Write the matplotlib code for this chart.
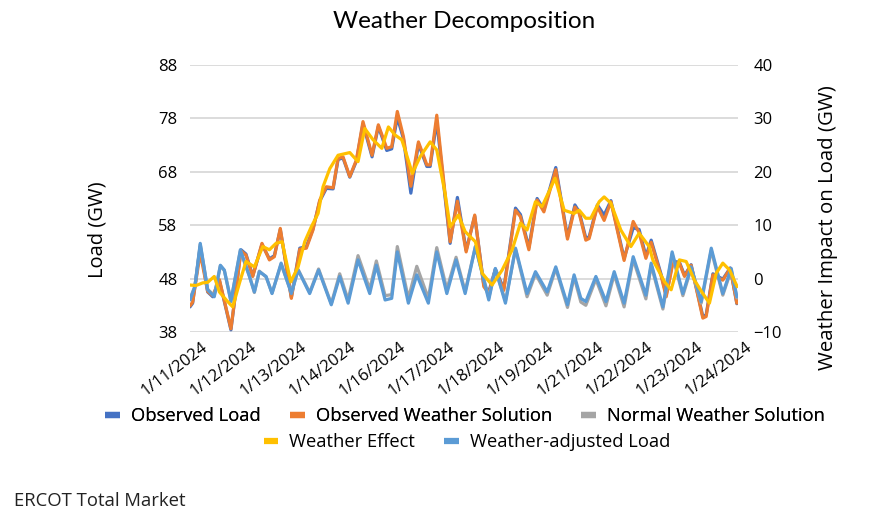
import numpy as np
import matplotlib
matplotlib.use('Agg')
import matplotlib.pyplot as plt
import matplotlib.transforms as mtransforms
from matplotlib.lines import Line2D

plt.rcParams['font.family'] = ['Open Sans', 'DejaVu Sans']

# x axis: hours since 1/11/2024 00:00, one label every 30 hours
tick_hours = [0, 30, 60, 90, 120, 150, 180, 210, 240, 270, 300, 330]
tick_labels = ['1/11/2024', '1/12/2024', '1/13/2024', '1/14/2024', '1/16/2024', '1/17/2024',
               '1/18/2024', '1/19/2024', '1/21/2024', '1/22/2024', '1/23/2024', '1/24/2024']

# observed weather solution (GW)
ows_h = [0, 1.6, 6.2, 10.7, 13.8, 17.8, 24.8, 30.9, 33.9, 38.0, 43.6, 48.1, 51.1, 54.7, 61.4, 66.5,
         70.5, 74.5, 78.6, 82.6, 86.7, 89.7, 92.7, 96.8, 100.8, 104.8, 110.3, 114.1, 119.2, 122.2,
         125.6, 129.3, 133.8, 138.4, 143.5, 145.5, 149.5, 157.6, 162.0, 167.3, 172.5, 178.0, 181.0,
         185.0, 190.1, 197.2, 200.2, 205.3, 210.3, 214.4, 221.6, 228.7, 233.2, 235.8, 239.8, 241.8,
         246.8, 250.9, 255.0, 263.0, 268.5, 272.1, 276.2, 279.4, 285.5, 288.5, 292.5, 296.5, 299.6,
         303.6, 310.7, 312.7, 316.8, 322.8, 327.3, 331.3]
ows_v = [42.9, 43.6, 52.8, 45.6, 44.8, 47.8, 38.6, 53.2, 52.4, 48.4, 54.6, 51.5, 52.1, 57.4, 44.3, 53.5,
         53.7, 57.1, 62.7, 65.2, 65.0, 70.5, 70.8, 67.1, 70.2, 77.4, 71.1, 76.8, 72.4, 72.7,
         79.3, 74.6, 65.3, 73.6, 69.3, 69.3, 78.6, 54.9, 62.5, 53.0, 59.9, 46.5, 45.2,
         49.6, 45.8, 60.8, 59.6, 53.4, 62.7, 60.5, 68.4, 55.4, 61.4, 60.2, 55.2, 55.5,
         61.5, 58.9, 62.4, 51.4, 58.7, 56.6, 51.8, 54.8, 48.4, 44.6, 50.9, 50.9, 48.4,
         50.5, 40.6, 40.9, 48.7, 47.7, 49.9, 43.4]

# observed load (GW), same hours
obs_v = [42.7, 43.4, 54.0, 45.5, 44.6, 47.7, 38.4, 53.4, 52.6, 48.5, 54.4, 51.7, 52.3, 57.2, 44.5, 53.7,
         54.0, 57.3, 62.5, 64.9, 64.8, 70.3, 70.6, 67.0, 70.0, 77.0, 70.8, 76.5, 72.0, 72.3,
         78.2, 74.2, 64.0, 73.2, 69.0, 69.0, 77.5, 54.6, 63.2, 53.3, 59.7, 46.8, 45.5,
         49.8, 46.1, 61.2, 60.0, 53.8, 63.0, 60.9, 68.8, 55.8, 61.8, 60.5, 55.6, 55.8,
         61.8, 59.9, 62.6, 51.8, 57.5, 57.2, 52.2, 55.2, 48.7, 44.9, 51.2, 51.1, 48.6,
         50.6, 40.9, 41.2, 48.9, 47.9, 50.0, 43.3]

# weather-adjusted load (GW)
wal_h = [0, 3.0, 6.2, 10.7, 14.7, 18.4, 20.8, 24.8, 30.5, 36.0, 39.0, 42.0, 46.1, 49.7, 55.2, 61.4,
         65.5, 72.5, 77.9, 85.6, 90.7, 95.8, 101.8, 108.9, 112.9, 118.2, 122.2, 125.6, 132.3, 137.4,
         144.4, 149.5, 155.6, 161.2, 166.7, 172.9, 181.0, 185.0, 191.1, 197.2, 204.2, 209.3, 216.4,
         221.6, 228.7, 232.7, 236.8, 239.8, 245.9, 252.0, 257.0, 263.0, 268.5, 276.2, 279.4, 286.5,
         292.1, 298.6, 303.6, 309.7, 315.8, 322.8, 327.9, 331.3]
wal_v = [44.0, 46.5, 54.6, 45.9, 44.6, 50.5, 49.6, 43.7, 53.4, 48.4, 45.5, 49.3, 48.4, 45.2, 50.9, 45.2,
         49.6, 45.2, 49.6, 43.1, 48.4, 43.4, 51.5, 45.2, 50.5, 44.0, 44.3, 53.0, 43.4, 48.7,
         43.4, 53.0, 45.2, 51.5, 45.2, 54.0, 44.0, 49.9, 43.4, 53.7, 45.2, 49.3, 45.5,
         50.2, 43.1, 48.7, 44.3, 43.7, 48.4, 43.7, 49.3, 43.4, 52.1, 44.9, 50.9, 42.7,
         53.0, 45.2, 50.2, 43.7, 53.7, 45.2, 49.9, 44.6]

# normal weather solution (GW), same hours
nws_v = [44.2, 46.6, 54.4, 46.0, 44.8, 50.4, 49.5, 43.9, 53.2, 48.5, 45.4, 49.4, 48.3, 45.3, 50.7, 45.4,
         49.7, 45.4, 49.8, 43.3, 48.9, 44.0, 52.3, 46.0, 51.3, 44.8, 45.0, 54.0, 44.3, 50.3,
         44.3, 53.8, 46.0, 52.0, 45.6, 54.0, 44.4, 49.7, 43.8, 53.5, 44.6, 48.9, 44.9,
         49.9, 42.6, 48.3, 43.6, 43.0, 47.9, 42.9, 48.8, 42.7, 51.6, 44.2, 50.5, 42.3,
         52.6, 44.8, 49.9, 43.4, 53.3, 44.9, 49.6, 44.4]

# weather effect (GW, right axis)
we_h = [0, 3.6, 7.7, 10.7, 14.7, 17.8, 22.8, 25.9, 29.9, 33.9, 39.0, 44.1, 48.1, 52.1, 55.8, 61.0,
        65.5, 69.5, 73.5, 77.6, 80.6, 84.7, 89.7, 96.8, 101.8, 105.9, 110.9, 116.2, 120.2, 124.2,
        128.3, 130.3, 134.7, 139.4, 145.5, 149.5, 154.5, 157.6, 162.6, 166.7, 172.9, 177.0, 183.0,
        189.1, 195.2, 200.2, 204.2, 209.3, 213.3, 221.2, 226.7, 232.7, 235.8, 239.8, 242.8, 247.9,
        250.9, 255.0, 261.0, 267.1, 272.1, 278.2, 280.4, 287.5, 291.5, 296.5, 300.6, 305.6, 310.7,
        314.7, 318.8, 322.8, 326.9, 331.5]
we_v = [-1.2, -1.3, -0.8, -0.7, 0.4, -2.5, -4.3, -5.3, -0.9, 3.2, 2.2, 6.0, 5.4, 6.6, 6.9, -0.6,
        2.2, 6.9, 9.7, 12.2, 17.2, 20.6, 23.1, 23.6, 21.9, 28.1, 26.0, 24.4, 28.4, 26.9,
        26.0, 24.1, 19.7, 22.8, 25.6, 24.1, 16.0, 9.7, 11.9, 8.8, 6.9, 1.0, -1.2,
        1.6, 5.4, 10.4, 9.1, 14.4, 13.5, 18.8, 12.8, 12.2, 12.8, 11.3, 11.3, 14.4,
        15.3, 14.1, 9.1, 6.0, 8.5, 6.0, 3.5, -0.6, -2.1, 3.5, 3.2, -0.3, -2.8,
        -4.6, 1.0, 2.9, 1.6, -1.5]

c_obs = '#4472C4'
c_ows = '#ED7D31'
c_nws = '#A5A5A5'
c_we = '#FFC000'
c_wal = '#5B9BD5'
lw = 2.3
line_kw = dict(lw=lw, solid_joinstyle='round', solid_capstyle='round')

fig = plt.figure(figsize=(8.77, 5.28), dpi=100)
ax = fig.add_axes([190 / 877, 1 - 332 / 528, 548 / 877, 267 / 528])

ax.plot(ows_h, obs_v, color=c_obs, zorder=3, **line_kw)
ax.plot(ows_h, ows_v, color=c_ows, zorder=4, **line_kw)
ax.plot(wal_h, nws_v, color=c_nws, zorder=5, **line_kw)
ax.plot(wal_h, wal_v, color=c_wal, zorder=6, **line_kw)

ax.set_xlim(0, 332)
ax.set_ylim(38, 88)
ax.set_yticks(range(38, 89, 10))
ax.grid(axis='y', color='#D9D9D9', lw=1.3)
ax.set_axisbelow(True)
for s in ax.spines.values():
    s.set_visible(False)
ax.tick_params(length=0, labelsize=12, colors='#000000')
ax.tick_params(axis='y', pad=9)

ax.set_xticks(tick_hours)
ax.set_xticklabels(tick_labels, rotation=37, ha='right', rotation_mode='anchor')
offset = mtransforms.ScaledTranslation(11 / 100, -2 / 100, fig.dpi_scale_trans)
for lab in ax.get_xticklabels():
    lab.set_transform(lab.get_transform() + offset)

ax2 = ax.twinx()
ax2.plot(we_h, we_v, color=c_we, zorder=7, **line_kw)
ax2.set_ylim(-10, 40)
ax2.set_yticks(range(-10, 41, 10))
for s in ax2.spines.values():
    s.set_visible(False)
ax2.tick_params(length=0, labelsize=12, pad=11)

fig.text(464 / 877, 1 - 22 / 528, 'Weather Decomposition', ha='center', va='center',
         fontsize=17.5, family='Lato')
fig.text(97 / 877, 1 - 230 / 528, 'Load (GW)', rotation=90, ha='center', va='center', fontsize=14.5)
fig.text(828 / 877, 1 - 228 / 528, 'Weather Impact on Load (GW)', rotation=90, ha='center',
         va='center', fontsize=14.7)
fig.text(14 / 877, 1 - 501 / 528, 'ERCOT Total Market', ha='left', va='center', fontsize=13.3,
         color='#222222')

def handle(c):
    return Line2D([0], [0], color=c, lw=4.5, solid_capstyle='butt')

leg1 = fig.legend([handle(c_obs), handle(c_ows), handle(c_nws)],
                  ['Observed Load', 'Observed Weather Solution', 'Normal Weather Solution'],
                  loc='center', bbox_to_anchor=(465 / 877, 1 - 416 / 528), ncol=3, frameon=False,
                  fontsize=13.2, handlelength=0.8, handletextpad=0.6, columnspacing=1.6)
leg2 = fig.legend([handle(c_we), handle(c_wal)],
                  ['Weather Effect', 'Weather-adjusted Load'],
                  loc='center', bbox_to_anchor=(467 / 877, 1 - 442 / 528), ncol=2, frameon=False,
                  fontsize=13.2, handlelength=0.8, handletextpad=0.6, columnspacing=1.6)
fig.add_artist(leg1)

fig.savefig('out.png', dpi=100)
